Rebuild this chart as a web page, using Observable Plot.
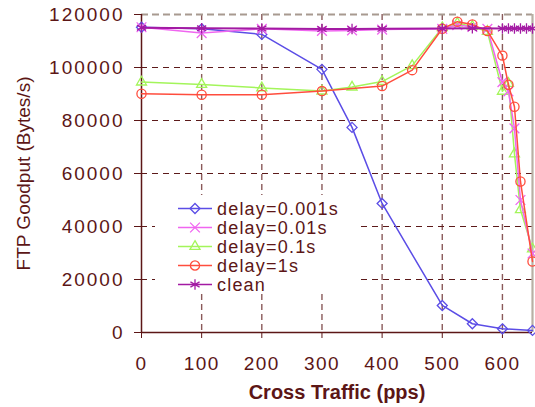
<!DOCTYPE html>
<html><head><meta charset="utf-8">
<script src="https://cdn.jsdelivr.net/npm/d3@7"></script>
<script src="https://cdn.jsdelivr.net/npm/@observablehq/plot@0.6"></script>
<style>
html,body{margin:0;padding:0;background:#fff;}
#chart{position:relative;width:535px;height:407px;}
#chart g[aria-label="x-axis tick label"] text{letter-spacing:1.4px;}
#chart g[aria-label="y-axis tick label"] text{letter-spacing:2px;}
</style></head><body><div id="chart"></div>
<script>
// ---- data ----
const xTicks = [0, 100, 200, 300, 400, 500, 600];
const yTicks = [0, 20000, 40000, 60000, 80000, 100000, 120000];
const seriesNames = ["delay=0.001s", "delay=0.01s", "delay=0.1s", "delay=1s", "clean"];

const xD0001 = [0, 100, 200, 300, 350, 400, 500, 550, 600, 650];
const yD0001 = [115200, 114600, 112500, 99300, 77400, 48700, 10200, 3300, 1400, 800];

const xD001 = [0, 100, 200, 300, 350, 400, 500, 525, 550, 575, 600, 610, 620, 630, 650];
const yD001 = [115200, 113000, 114600, 113800, 114000, 114300, 114600, 116000, 115300, 114600, 94500, 91000, 77000, 50000, 29800];

const xD01 = [0, 100, 200, 300, 350, 400, 450, 500, 525, 550, 575, 600, 610, 620, 630, 650];
const yD01 = [94500, 93600, 92300, 91100, 92600, 94700, 100700, 115000, 116700, 115500, 113600, 91000, 94000, 67400, 46300, 31500];

const xD1 = [0, 100, 200, 300, 400, 450, 500, 525, 550, 575, 600, 610, 620, 630, 650];
const yD1 = [90100, 89700, 89700, 91100, 93000, 99000, 114600, 117300, 116200, 113800, 104500, 93500, 85200, 57000, 26800];

const xClean = [0, 100, 200, 300, 350, 400, 500, 550, 600, 610, 620, 630, 640, 650];
const yClean = [115000, 114800, 114700, 114500, 114500, 114600, 114700, 114800, 114700, 114700, 114700, 114700, 114700, 114700];

// ---- styles ----
const ink = "#5c1616";
const colors = ["#5b4de6", "#f066f0", "#a3f55a", "#ff4d3d", "#a31aa3"];
const symbols = ["diamond2", "times", "triangle2", "circle", "asterisk"];
const d3symbols = [d3.symbolDiamond2, d3.symbolTimes, d3.symbolTriangle2, d3.symbolCircle, d3.symbolAsterisk];
const radii = [4.5, 4.5, 4.8, 4.6, 5];

const xs = [xD0001, xD001, xD01, xD1, xClean];
const ys = [yD0001, yD001, yD01, yD1, yClean];
const tables = xs.map((xa, i) => xa.map((x, j) => ({x, y: ys[i][j]})));

const drawOrder = [0, 2, 1, 3, 4];
const seriesMarks = [];
for (const i of drawOrder) {
  seriesMarks.push(Plot.line(tables[i], {x: "x", y: "y", stroke: colors[i], strokeWidth: i === 4 ? 2 : 1.5}));
  seriesMarks.push(Plot.dot(tables[i], {x: "x", y: "y", stroke: colors[i], fill: "none", symbol: symbols[i], r: radii[i], strokeWidth: 1.3}));
}

const plot = Plot.plot({
  width: 535, height: 407,
  marginLeft: 141, marginRight: 3, marginTop: 14, marginBottom: 75,
  style: {fontFamily: "'Liberation Sans', Arial, sans-serif", fontSize: "19px", color: ink, background: "white", overflow: "visible"},
  x: {domain: [0, 650]},
  y: {domain: [0, 120000]},
  marks: [
    Plot.ruleX(xTicks.filter(d => d > 0), {stroke: "#8a5a5a", strokeDasharray: "6,4", strokeWidth: 1.4}),
    Plot.ruleY(yTicks.filter(d => d > 0 && d < 120000), {stroke: "#5c1a1a", strokeDasharray: "6,5", strokeWidth: 1}),
    Plot.ruleY([120000], {stroke: "#a89a90", strokeDasharray: "7,4", strokeWidth: 2.2}),
    Plot.ruleX([650], {stroke: "#b8b0a4", strokeWidth: 2.2}),
    Plot.axisX({ticks: xTicks, tickSize: 6, tickPadding: 18, tickFormat: d => String(d), label: null, stroke: ink, fill: ink}),
    Plot.axisY({ticks: yTicks, tickSize: 7, tickPadding: 10, tickFormat: d => String(d), label: null, stroke: ink, fill: ink}),
    Plot.ruleX([0], {stroke: ink, strokeWidth: 1.5}),
    Plot.ruleY([0], {stroke: ink, strokeWidth: 1.5}),
    ...seriesMarks,
    Plot.text(["Cross Traffic (pps)"], {frameAnchor: "bottom", dy: 66, fontWeight: "bold", fontSize: 20, fill: ink, style: "letter-spacing:1.6px"}),
    Plot.text(["FTP Goodput (Bytes/s)"], {frameAnchor: "left", rotate: -90, dx: -118, textAnchor: "middle", fontSize: 19, fill: ink})
  ]
});

// ---- legend ----
const svg = d3.select(plot);
const lg = svg.append("g").attr("aria-label", "legend").attr("text-anchor", "start");
const legendTop = 208.5, legendStep = 19, lx0 = 178, lx1 = 212, lxm = 195, ltx = 217;
lg.append("rect").attr("x", 155).attr("y", 195).attr("width", 205).attr("height", 99).attr("fill", "white");
seriesNames.forEach((name, i) => {
  const y = legendTop + i * legendStep;
  lg.append("line").attr("x1", lx0).attr("x2", lx1).attr("y1", y).attr("y2", y)
    .attr("stroke", colors[i]).attr("stroke-width", 1.5);
  lg.append("path").attr("transform", `translate(${lxm},${y})`)
    .attr("d", d3.symbol(d3symbols[i], Math.PI * radii[i] * radii[i])())
    .attr("fill", "none").attr("stroke", colors[i]).attr("stroke-width", 1.3);
  lg.append("text").attr("x", ltx).attr("y", y).attr("dy", "0.35em")
    .attr("text-anchor", "start")
    .attr("fill", ink).attr("font-size", 18).style("letter-spacing", "1.2px").text(name);
});

document.getElementById("chart").appendChild(plot);
</script></body></html>
